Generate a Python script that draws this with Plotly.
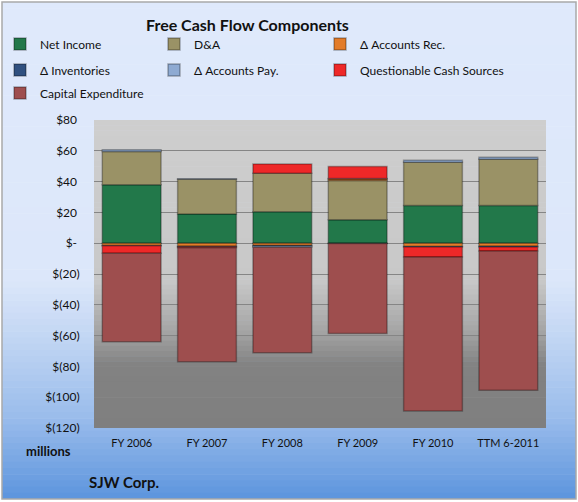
import plotly.graph_objects as go

W, H = 578, 502
ML, MR, MT, MB = 94, 32, 120, 74
PW, PH = W - ML - MR, H - MT - MB

categories = ["FY 2006", "FY 2007", "FY 2008", "FY 2009", "FY 2010", "TTM 6-2011"]

net_income = [38, 19, 20.5, 15.2, 24.5, 24.5]
d_and_a = [21.5, 22.5, 25, 25.5, 28, 30]
accounts_rec = [-1.5, -2, -1.5, 1, -2.2, -2]
inventories = [-0.2, -0.3, -0.3, -0.2, -0.2, -0.5]
accounts_pay = [1.2, 0.3, -0.8, 0.3, 1.3, 1.3]
questionable = [-4.8, -0.7, 6, 7.8, -6.6, -2.5]
capex = [-57.5, -74, -68.5, -58.5, -100, -90.5]

y_ticks = [80, 60, 40, 20, 0, -20, -40, -60, -80, -100, -120]
y_labels = ["$80\u2008", "$60\u2008", "$40\u2008", "$20\u2008", "$-\u2008", "$(20)", "$(40)",
            "$(60)", "$(80)", "$(100)", "$(120)"]

series = [
    ("Net Income", net_income, "#22784a"),
    ("D&A", d_and_a, "#9a9266"),
    ("Δ Accounts Rec.", accounts_rec, "#e27c2a"),
    ("Δ Inventories", inventories, "#30507f"),
    ("Δ Accounts Pay.", accounts_pay, "#8eaad2"),
    ("Questionable Cash Sources", questionable, "#ee2828"),
    ("Capital Expenditure", capex, "#9e4e4e"),
]

# where each legend entry's text starts (px), three per row like the original
legend_spots = [(35, 44), (202, 44), (368, 44),
                (35, 70), (202, 70), (368, 70),
                (35, 93)]

FONT = "Lato, 'Open Sans', sans-serif"


def px_x(x):
    return (x - ML) / PW


def px_y(y):
    return (H - MB - y) / PH


def lerp_color(stops, y):
    for (y0, c0), (y1, c1) in zip(stops, stops[1:]):
        if y0 <= y <= y1:
            t = (y - y0) / (y1 - y0) if y1 > y0 else 0
            r, g, b = [round(a + (b_ - a) * t) for a, b_ in zip(c0, c1)]
            return f"rgb({r},{g},{b})"
    r, g, b = stops[-1][1]
    return f"rgb({r},{g},{b})"


def bands(x0, x1, y0, y1, stops, n):
    out = []
    step = (y1 - y0) / n
    for i in range(n):
        ya = y0 + i * step
        yb = ya + step + 0.6
        out.append(dict(type="rect", xref="paper", yref="paper", layer="below",
                        x0=px_x(x0), x1=px_x(x1), y0=px_y(min(yb, y1)), y1=px_y(ya),
                        fillcolor=lerp_color(stops, ya + step / 2), line_width=0))
    return out


outer_stops = [(0, (223, 233, 251)), (280, (220, 231, 250)), (350, (188, 210, 242)),
               (420, (152, 187, 235)), (499, (92, 149, 221))]
plot_stops = [(120, (206, 206, 206)), (280, (200, 200, 200)), (330, (166, 166, 166)),
              (365, (130, 130, 130)), (428, (127, 127, 127))]

shapes = bands(2, 576, 2, 499, outer_stops, 80)
shapes += bands(ML, ML + PW, MT, MT + PH, plot_stops, 60)
shapes.append(dict(type="rect", xref="paper", yref="paper", layer="below",
                   x0=px_x(2), x1=px_x(576), y0=px_y(499), y1=px_y(2),
                   line=dict(color="#a9a9a9", width=1.5), fillcolor="rgba(0,0,0,0)"))

fig = go.Figure()
legends = {}
for i, (name, vals, color) in enumerate(series):
    key = "legend" if i == 0 else f"legend{i + 1}"
    fig.add_trace(go.Bar(
        x=categories, y=vals, name=name, legend=key, showlegend=True,
        marker=dict(color=color, line=dict(color="rgba(0,0,0,0.3)", width=1.5)),
    ))
    tx, ty = legend_spots[i]
    legends[key] = dict(orientation="h", xref="container", yref="container",
                        x=(tx - 48) / W, y=1 - ty / H, xanchor="left", yanchor="middle",
                        bgcolor="rgba(0,0,0,0)",
                        font=dict(family=FONT, size=12, color="#111"))

fig.update_layout(
    width=W, height=H,
    margin=dict(l=ML, r=MR, t=MT, b=MB, autoexpand=False),
    paper_bgcolor="white", plot_bgcolor="rgba(0,0,0,0)",
    showlegend=True,
    barmode="relative", bargap=0.22,
    font=dict(family=FONT, color="#111"),
    shapes=shapes,
    xaxis=dict(showgrid=False, showline=False, ticks="outside", ticklen=5,
               tickcolor="rgba(0,0,0,0)", tickfont=dict(size=11, color="#111")),
    yaxis=dict(range=[-120, 80], tickvals=y_ticks, ticktext=y_labels,
               showgrid=True, gridcolor="#858585", gridwidth=1,
               zeroline=True, zerolinecolor="#858585", zerolinewidth=1,
               ticks="outside", ticklen=11, tickcolor="rgba(0,0,0,0)",
               tickfont=dict(size=12, color="#111")),
    annotations=[
        dict(text="<b>Free Cash Flow Components</b>", xref="paper", yref="paper",
             x=px_x(247), y=px_y(25), xanchor="center", yanchor="middle", showarrow=False,
             font=dict(family=FONT, size=16, color="#111")),
        dict(text="<b>millions</b>", xref="paper", yref="paper", x=px_x(73), y=px_y(451),
             xanchor="right", yanchor="middle", showarrow=False,
             font=dict(family=FONT, size=13, color="#111")),
        dict(text="<b>SJW Corp.</b>", xref="paper", yref="paper", x=px_x(87), y=px_y(482),
             xanchor="left", yanchor="middle", showarrow=False,
             font=dict(family=FONT, size=15, color="#111")),
    ],
)
fig.update_layout(**legends)

fig.write_html("out.html", config={"displayModeBar": False},
               post_script="document.body.style.margin = '0';")
